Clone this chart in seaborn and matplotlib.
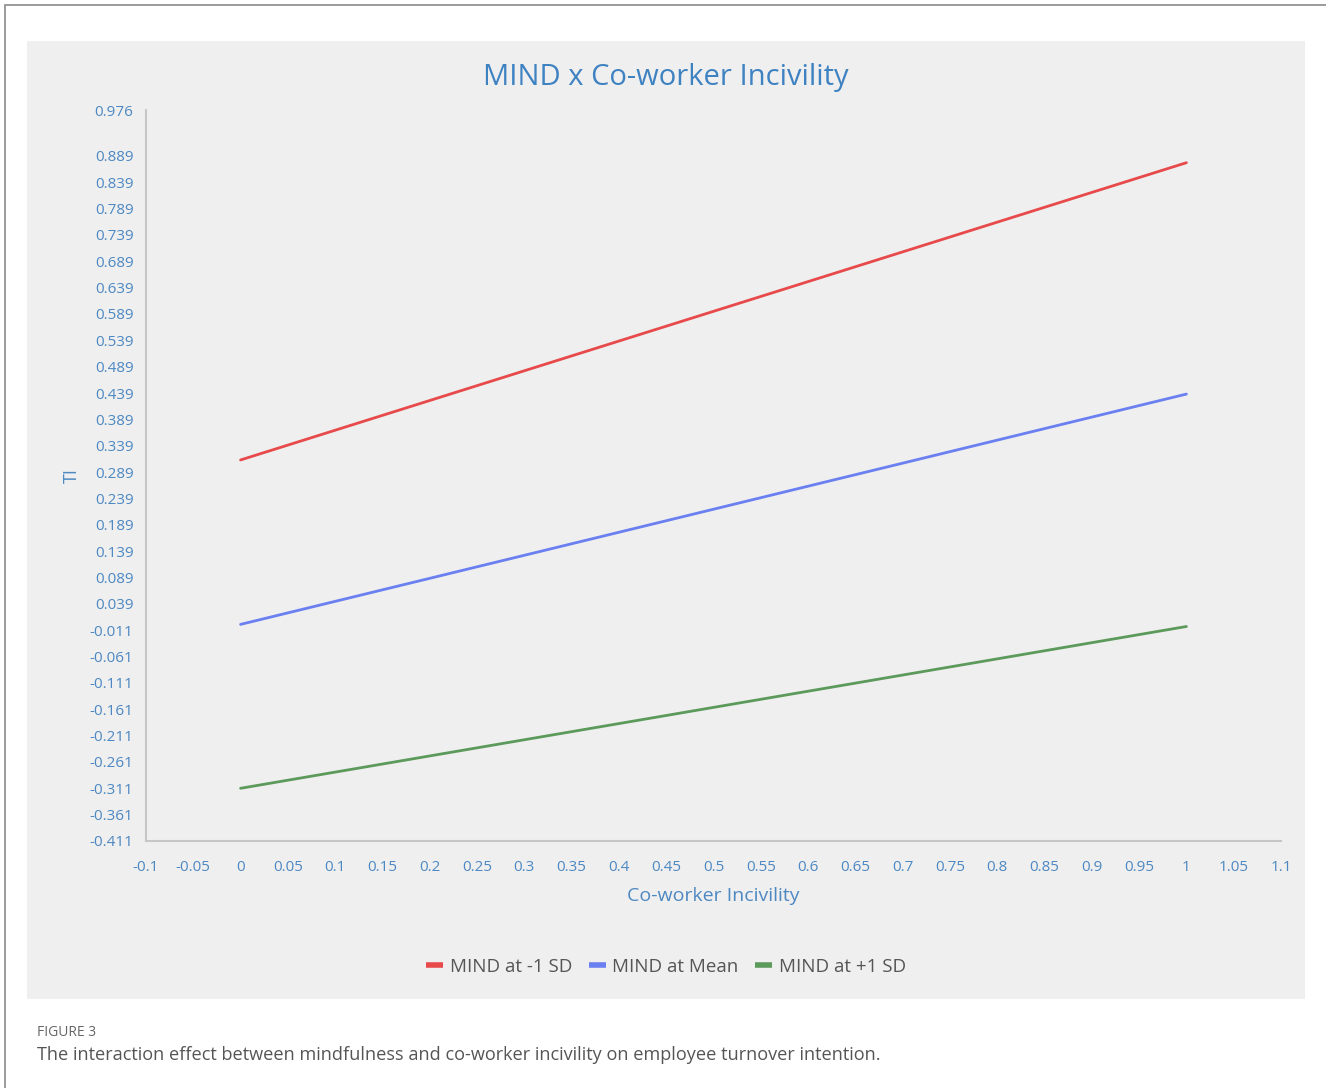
import numpy as np
import pandas as pd
import seaborn as sns
import matplotlib.pyplot as plt
from matplotlib.patches import Rectangle

# values
incivility = [0, 1]
mind_low = [0.312, 0.876]     # MIND at -1 SD
mind_mean = [0.000, 0.437]    # MIND at Mean
mind_high = [-0.311, -0.004]  # MIND at +1 SD
series_names = ["MIND at -1 SD", "MIND at Mean", "MIND at +1 SD"]
series_colors = ["#e8494b", "#6a7ff0", "#5c9a5c"]

df = pd.DataFrame({
    "x": incivility * 3,
    "y": mind_low + mind_mean + mind_high,
    "series": [series_names[0]] * 2 + [series_names[1]] * 2 + [series_names[2]] * 2,
})

sns.set_style("white")
plt.rcParams["font.family"] = ["Open Sans", "DejaVu Sans"]

tick_blue = "#4d88c2"
axis_grey = "#c6c6c6"

fig = plt.figure(figsize=(13.26, 10.88), dpi=100)
W, H = 1326, 1088

def fx(px):
    return px / W

def fy(py):
    return 1 - py / H

# outer frame and grey panel (behind the axes)
fig.patches.append(Rectangle((fx(5), fy(1200)), 2, fy(5) - fy(1200), transform=fig.transFigure,
                             facecolor="none", edgecolor="#8a8a8a", linewidth=1.2, zorder=-2))
fig.patches.append(Rectangle((fx(27), fy(999)), fx(1305) - fx(27), fy(41) - fy(999),
                             transform=fig.transFigure, facecolor="#efefef", edgecolor="none",
                             zorder=-1))

ax = fig.add_axes([fx(146), fy(841), fx(1281) - fx(146), fy(110) - fy(841)])
ax.set_facecolor("none")

sns.lineplot(data=df, x="x", y="y", hue="series", palette=series_colors,
             linewidth=2, ax=ax, legend=False)

ax.set_xlim(-0.1, 1.1)
ax.set_ylim(-0.411, 0.976)

xt = np.round(np.arange(-0.1, 1.1001, 0.05), 2)
ax.set_xticks(xt)
ax.set_xticklabels([f"{v:g}" for v in xt])

yt = list(np.round(np.arange(-0.411, 0.94, 0.05), 3)) + [0.976]
ylabels = [f"{v:.3f}" for v in yt]
ylabels[-2] = ""
ax.set_yticks(yt)
ax.set_yticklabels(ylabels)

for s in ["top", "right"]:
    ax.spines[s].set_visible(False)
for s in ["left", "bottom"]:
    ax.spines[s].set_color(axis_grey)
    ax.spines[s].set_linewidth(1.5)
ax.tick_params(axis="both", colors=axis_grey, labelcolor=tick_blue, labelsize=11,
               length=7, width=1.5, direction="out")
ax.tick_params(axis="x", pad=7)
ax.tick_params(axis="y", pad=2)

ax.set_xlabel("Co-worker Incivility", color=tick_blue, fontsize=14, labelpad=8)
ax.set_ylabel("TI", color=tick_blue, fontsize=13, labelpad=6)

fig.text(fx(666), fy(78), "MIND x Co-worker Incivility", color="#3f82c2",
         fontsize=21, ha="center", va="center")

handles = [plt.Line2D([], [], color=c, linewidth=4, solid_capstyle="butt") for c in series_colors]
fig.legend(handles, series_names, loc="center", bbox_to_anchor=(fx(666), fy(967)),
           ncol=3, frameon=False, fontsize=13.5, handlelength=0.9, handletextpad=0.35,
           columnspacing=0.9, labelcolor="#555555")

fig.text(fx(37), fy(1032), "FIGURE 3", color="#666666", fontsize=10, ha="left", va="center")
fig.text(fx(37), fy(1055), "The interaction effect between mindfulness and co-worker incivility on employee turnover intention.",
         color="#555555", fontsize=13.1, ha="left", va="center")

fig.savefig("out.png", dpi=100, facecolor="white")
